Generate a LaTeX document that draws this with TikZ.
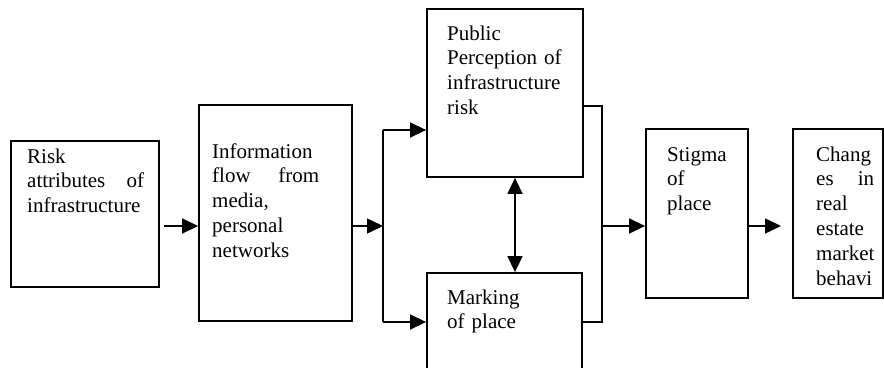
\documentclass[tikz,border=0pt]{standalone}
\usepackage{fontspec}
\setmainfont{Liberation Serif}
\usetikzlibrary{arrows.meta}
\tikzset{
  box/.style={draw, line width=1.8pt, inner sep=0pt, rectangle},
  txt/.style={anchor=base west, inner sep=0pt, align=left, font=\fontsize{21}{24.8}\selectfont},
  arr/.style={line width=1.5pt, -{Triangle[length=16pt,width=15pt]}},
  darr/.style={line width=1.5pt, {Triangle[length=16pt,width=15pt]}-{Triangle[length=16pt,width=15pt]}},
  ln/.style={line width=1.5pt}
}
\begin{document}
\begin{tikzpicture}[x=1pt,y=-1pt]
\useasboundingbox (0,0) rectangle (884,367);
\clip (0,0) rectangle (884,367);
% boxes
\node[box, minimum width=148pt, minimum height=146pt] (b1) at (85,214) {};
\node[box, minimum width=153pt, minimum height=216pt] (b2) at (275.5,213) {};
\node[box, minimum width=156pt, minimum height=168pt] (b3) at (505,93) {};
\node[box, minimum width=155pt, minimum height=117pt] (b4) at (504.5,331.5) {};
\node[box, minimum width=102pt, minimum height=169pt] (b5) at (697,213.5) {};
\node[box, minimum width=90pt, minimum height=169pt] (b6) at (838,213.5) {};
% texts
\node[txt, text width=117pt] (t1) at (27,163) {Risk\\attributes\hfill of\\infrastructure};
\node[txt, text width=107pt] (t2) at (212,158) {Information\\flow\hfill from\\media,\\personal\\networks};
\node[txt, text width=125pt] (t3) at (447,40) {Public\\Perception of\\infrastructure\\risk};
\node[txt, text width=125pt] (t4) at (447,304) {Marking\\of place};
\node[txt, text width=80pt] (t5) at (667,161) {Stigma\\of\\place};
\node[txt, text width=58pt] (t6) at (816,161) {Chang\\es\hfill in\\real\\estate\\market\\behavi};
% coordinates
\coordinate (s1) at (164,226);
\coordinate (brm) at (383,226);
\coordinate (brt) at (383,130);
\coordinate (brb) at (383,322);
\coordinate (jt) at (602,106);
\coordinate (jb) at (602,322);
\coordinate (jm) at (602,226);
\coordinate (dx) at (515,0);
\coordinate (e6) at (781,226);
% connectors
\draw[arr] (s1) -- (s1 -| b2.west);
\draw[arr] (brm -| b2.east) -- (brm);
\draw[ln] (brt) -- (brb);
\draw[arr] (brt) -- (brt -| b3.west);
\draw[arr] (brb) -- (brb -| b4.west);
\draw[darr] (dx |- b3.south) -- (dx |- b4.north);
\draw[ln] (jt -| b3.east) -- (jt) -- (jb) -- (jb -| b4.east);
\draw[arr] (jm) -- (jm -| b5.west);
\draw[arr] (jm -| b5.east) -- (e6);
\end{tikzpicture}
\end{document}
